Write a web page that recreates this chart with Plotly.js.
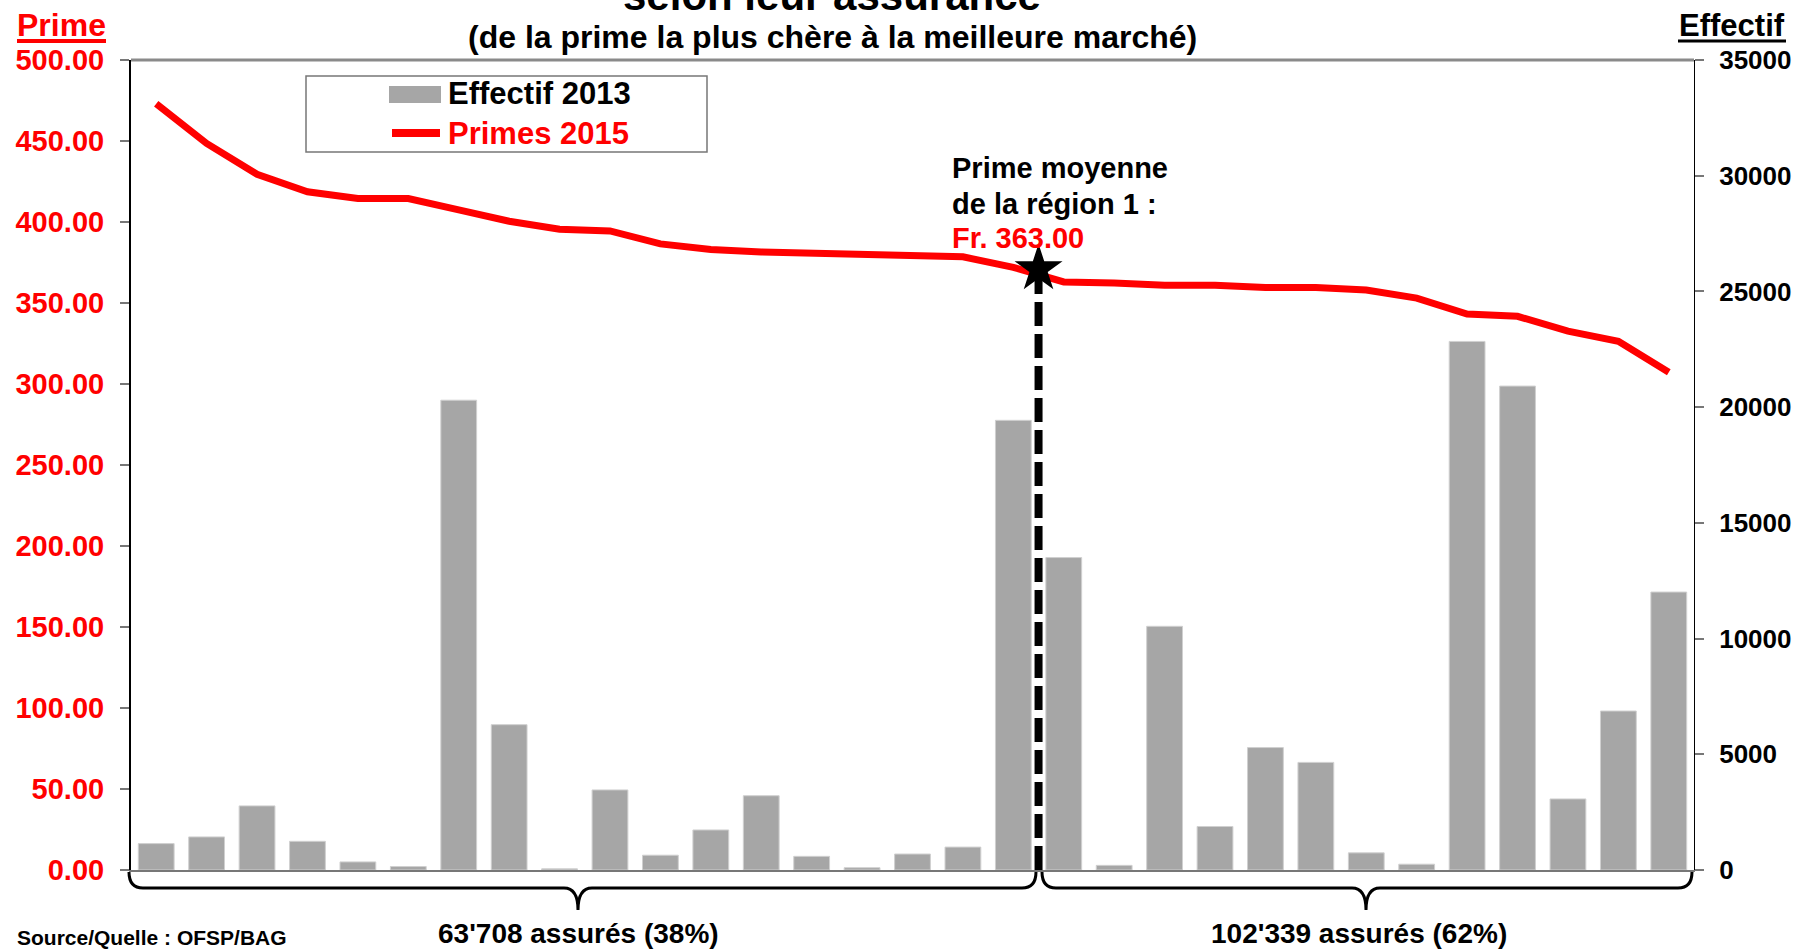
<!DOCTYPE html>
<html><head><meta charset="utf-8">
<script src="https://cdn.plot.ly/plotly-3.0.1.min.js"></script>
<style>html,body{margin:0;padding:0;background:#fff}</style>
</head><body><div id="chart" style="width:1795px;height:949px"></div>
<script>
// ---- data ----
const rank = [1,2,3,4,5,6,7,8,9,10,11,12,13,14,15,16,17,18,19,20,21,22,23,24,25,26,27,28,29,30,31];
const effectif2013 = [1140,1430,2770,1240,350,150,20300,6280,50,3460,640,1730,3210,590,100,690,990,19430,13500,200,10530,1880,5290,4650,740,250,22840,20910,3070,6870,12010];
const primes2015 = [473,448.5,429.5,418.7,414.5,414.5,407.5,400.5,395.5,394.5,386.5,383,381.5,380.5,380.5,379,378.5,372,363,362.3,361,361,359.5,359.5,358,353,343.2,341.8,332.6,326.3,307.2];
const meanX = [18.5];
const meanY = [371];
const primeTicks = [0,50,100,150,200,250,300,350,400,450,500];
const effTicks = [0,5000,10000,15000,20000,25000,30000,35000];
const groupLabels = ["63'708 assurés (38%)", "102'339 assurés (62%)"];

// ---- geometry helpers ----
const W = 1795, H = 949, L = 131, R = 1694, T = 60, B = 870;
const px = v => (v - L) / (R - L);
const py = v => (B - v) / (B - T);
const FONT = 'Liberation Sans, Arial, Helvetica, sans-serif';

function brace(x0, x1, xm, yTop, yMid, yTip) {
  const p = (x, y) => px(x).toFixed(5) + ',' + py(y).toFixed(5);
  return 'M' + p(x0, yTop) + ' Q' + p(x0, yMid) + ' ' + p(x0 + 14, yMid) +
    ' L' + p(xm - 14, yMid) + ' Q' + p(xm, yMid) + ' ' + p(xm, yTip) +
    ' Q' + p(xm, yMid) + ' ' + p(xm + 14, yMid) +
    ' L' + p(x1 - 14, yMid) + ' Q' + p(x1, yMid) + ' ' + p(x1, yTop);
}

const traces = [
  { type: 'bar', x: rank, y: effectif2013, yaxis: 'y', name: 'Effectif 2013',
    marker: { color: '#a6a6a6', line: { color: '#d0d0d0', width: 1 } }, showlegend: false, hoverinfo: 'skip' },
  { type: 'scatter', mode: 'lines', x: rank, y: primes2015, yaxis: 'y2', name: 'Primes 2015',
    line: { color: '#ff0000', width: 7 }, showlegend: false, hoverinfo: 'skip' },
  { type: 'scatter', mode: 'lines', x: [meanX[0], meanX[0]], y: [0, meanY[0]], yaxis: 'y2',
    line: { color: '#000', width: 8, dash: '24px,8px' }, showlegend: false, hoverinfo: 'skip' },
  { type: 'scatter', mode: 'markers', x: meanX, y: meanY, yaxis: 'y2',
    marker: { symbol: 'star', size: 36, color: '#000' }, showlegend: false, hoverinfo: 'skip' }
];

const layout = {
  width: W, height: H,
  margin: { l: L, r: W - R, t: T, b: H - B, pad: 0 },
  paper_bgcolor: '#fff', plot_bgcolor: '#fff',
  showlegend: false,
  bargap: 0.29,
  font: { family: FONT, weight: 700 },
  xaxis: { range: [0.5, 31.5], showticklabels: false, ticks: '', showgrid: false, zeroline: false,
    showline: true, linecolor: '#777', linewidth: 2 },
  yaxis: { side: 'right', range: [0, 35000], tickvals: effTicks, ticktext: effTicks.map(String),
    tickfont: { family: FONT, size: 26, color: '#000', weight: 700 },
    ticks: 'outside', ticklen: 9, tickcolor: '#777', tickwidth: 2, ticklabelstandoff: 10,
    showline: true, linecolor: '#000', linewidth: 1, showgrid: false, zeroline: false },
  yaxis2: { side: 'left', overlaying: 'y', range: [0, 500], tickvals: primeTicks,
    ticktext: primeTicks.map(v => v.toFixed(2)),
    tickfont: { family: FONT, size: 29, color: '#ff0000', weight: 700 },
    ticks: 'outside', ticklen: 9, tickcolor: '#777', tickwidth: 2, ticklabelstandoff: 10,
    showline: true, linecolor: '#000', linewidth: 2, showgrid: false, zeroline: false },
  yaxis3: { side: 'left', overlaying: 'y', range: [0, 500], tickvals: primeTicks, showticklabels: false,
    ticks: 'inside', ticklen: 9, tickcolor: '#777', tickwidth: 2, showline: false, showgrid: false, zeroline: false },
  shapes: [
    { type: 'line', xref: 'paper', yref: 'paper', x0: 0, x1: 1, y0: 1, y1: 1, line: { color: '#8a8a8a', width: 3 } },
    { type: 'line', xref: 'paper', yref: 'paper', x0: px(17), x1: px(106), y0: py(41), y1: py(41), line: { color: '#ff0000', width: 4 } },
    { type: 'line', xref: 'paper', yref: 'paper', x0: px(1678), x1: px(1786), y0: py(41), y1: py(41), line: { color: '#000', width: 3 } },
    { type: 'rect', xref: 'paper', yref: 'paper', x0: px(306), x1: px(707), y0: py(152), y1: py(76), line: { color: '#777', width: 1.5 }, fillcolor: '#fff' },
    { type: 'rect', xref: 'paper', yref: 'paper', x0: px(389), x1: px(441), y0: py(103), y1: py(86), line: { width: 0 }, fillcolor: '#a6a6a6' },
    { type: 'line', xref: 'paper', yref: 'paper', x0: px(392), x1: px(440), y0: py(133), y1: py(133), line: { color: '#ff0000', width: 8 } },
    { type: 'path', xref: 'paper', yref: 'paper', path: brace(129, 1036, 578, 872, 888, 910), line: { color: '#000', width: 3 } },
    { type: 'path', xref: 'paper', yref: 'paper', path: brace(1042, 1692, 1366, 872, 888, 910), line: { color: '#000', width: 3 } }
  ],
  annotations: [
    { xref: 'paper', yref: 'paper', x: px(832), y: py(-5), xanchor: 'center', yanchor: 'middle', showarrow: false,
      text: 'selon leur assurance', font: { family: FONT, size: 42, color: '#000', weight: 700 } },
    { xref: 'paper', yref: 'paper', x: px(832), y: py(37), xanchor: 'center', yanchor: 'middle', showarrow: false,
      text: '(de la prime la plus chère à la meilleure marché)', font: { family: FONT, size: 32, color: '#000', weight: 700 } },
    { xref: 'paper', yref: 'paper', x: px(61), y: py(25), xanchor: 'center', yanchor: 'middle', showarrow: false,
      text: 'Prime', font: { family: FONT, size: 32, color: '#ff0000', weight: 700 } },
    { xref: 'paper', yref: 'paper', x: px(1732), y: py(25), xanchor: 'center', yanchor: 'middle', showarrow: false,
      text: 'Effectif', font: { family: FONT, size: 31, color: '#000', weight: 700 } },
    { xref: 'paper', yref: 'paper', x: px(446), y: py(94), xanchor: 'left', yanchor: 'middle', showarrow: false,
      text: 'Effectif 2013', font: { family: FONT, size: 31, color: '#000', weight: 700 } },
    { xref: 'paper', yref: 'paper', x: px(446), y: py(133), xanchor: 'left', yanchor: 'middle', showarrow: false,
      text: 'Primes 2015', font: { family: FONT, size: 31, color: '#ff0000', weight: 700 } },
    { xref: 'paper', yref: 'paper', x: px(950), y: py(168), xanchor: 'left', yanchor: 'middle', showarrow: false,
      text: 'Prime moyenne', font: { family: FONT, size: 29, color: '#000', weight: 700 } },
    { xref: 'paper', yref: 'paper', x: px(950), y: py(204), xanchor: 'left', yanchor: 'middle', showarrow: false,
      text: 'de la région 1 :', font: { family: FONT, size: 29, color: '#000', weight: 700 } },
    { xref: 'paper', yref: 'paper', x: px(950), y: py(238), xanchor: 'left', yanchor: 'middle', showarrow: false,
      text: 'Fr. 363.00', font: { family: FONT, size: 29, color: '#ff0000', weight: 700 } },
    { xref: 'paper', yref: 'paper', x: px(578), y: py(933), xanchor: 'center', yanchor: 'middle', showarrow: false,
      text: groupLabels[0], font: { family: FONT, size: 28, color: '#000', weight: 700 } },
    { xref: 'paper', yref: 'paper', x: px(1359), y: py(933), xanchor: 'center', yanchor: 'middle', showarrow: false,
      text: groupLabels[1], font: { family: FONT, size: 28, color: '#000', weight: 700 } },
    { xref: 'paper', yref: 'paper', x: px(15), y: py(937), xanchor: 'left', yanchor: 'middle', showarrow: false,
      text: 'Source/Quelle : OFSP/BAG', font: { family: FONT, size: 21, color: '#000', weight: 700 } }
  ]
};

Plotly.newPlot('chart', traces, layout, { staticPlot: true, displayModeBar: false });
</script>
</body></html>
